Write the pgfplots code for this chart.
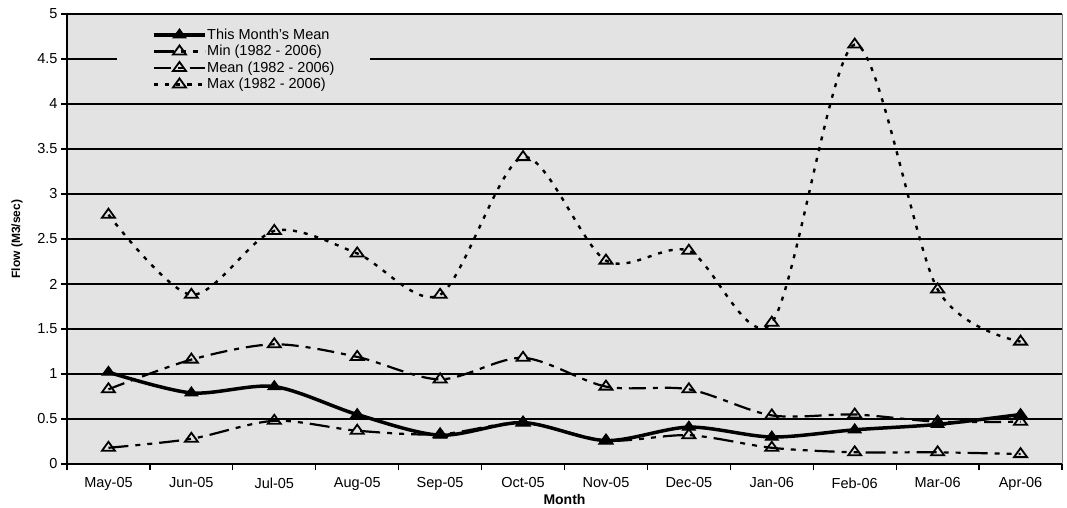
\documentclass[border=0pt]{standalone}
\usepackage{pgfplots}
\pgfplotsset{compat=1.18}
\usepackage{fontspec}
\setmainfont{Liberation Sans}
\definecolor{bgc}{RGB}{227,227,227}
\begin{document}
\begin{tikzpicture}
\useasboundingbox (-67bp,-44bp) rectangle (1000bp,464bp);
\begin{axis}[
  at={(0,0)}, anchor=south west,
  scale only axis, width=995bp, height=450bp,
  xmin=-0.5, xmax=11.5, ymin=0, ymax=5,
  axis lines=left,
  axis line style={-, line width=1.6bp, black},
  axis background/.style={fill=bgc},
  /pgf/number format/assume math mode=true,
  ytick={0,0.5,1,1.5,2,2.5,3,3.5,4,4.5,5},
  yticklabels={0,0.5,1,1.5,2,2.5,3,3.5,4,4.5,5},
  ymajorgrids,
  major grid style={black, line width=2bp},
  xtick={-0.5,0.5,1.5,2.5,3.5,4.5,5.5,6.5,7.5,8.5,9.5,10.5,11.5},
  x tick label as interval,
  xticklabels={May-05,Jun-05,Jul-05,Aug-05,Sep-05,Oct-05,Nov-05,Dec-05,Jan-06,Feb-06,Mar-06,Apr-06},
  tick align=outside,
  major tick length=6bp,
  tick style={black, line width=1.2bp},
  ticklabel style={font=\fontsize{14.5bp}{17bp}\selectfont},
  xticklabel style={yshift=-4bp},
  xlabel={Month},
  xlabel style={font=\bfseries\fontsize{14bp}{16bp}\selectfont, at={(axis description cs:0.5,0)}, anchor=center, yshift=-35.5bp},
  ylabel={Flow (M3/sec)},
  ylabel style={font=\bfseries\fontsize{12bp}{14bp}\selectfont, at={(axis description cs:-0.0503,0.5)}, anchor=center},
  legend style={at={(rel axis cs:0.0503,0.975)}, anchor=north west,
    fill=bgc, draw=none, inner xsep=35bp, inner ysep=3bp,
    font=\fontsize{14.5bp}{17bp}\selectfont,
    nodes={inner sep=0.5bp}, row sep=3.5bp},
  legend cell align=left,
  legend image code/.code={\draw[mark repeat=2,mark phase=2,#1] plot coordinates {(0bp,0bp) (25.5bp,0bp) (51bp,0bp)};},
  clip=false,
]
\addplot[black, line width=3.5bp, smooth, mark=triangle*, mark size=6bp,
  mark options={solid, fill=black, line width=1bp, xscale=1.25}]
  coordinates {(0,1.02) (1,0.79) (2,0.86) (3,0.55) (4,0.32) (5,0.46) (6,0.26) (7,0.41) (8,0.30) (9,0.38) (10,0.44) (11,0.55)};
\addlegendentry{This Month's Mean}
\addplot[black, line width=2.2bp, smooth, dash pattern=on 20bp off 7bp on 5bp off 7bp on 5bp off 7bp,
  mark=triangle, mark size=6bp, mark options={solid, fill=white, line width=1.8bp, xscale=1.25}]
  coordinates {(0,0.18) (1,0.28) (2,0.48) (3,0.37) (4,0.33) (5,0.46) (6,0.26) (7,0.32) (8,0.18) (9,0.13) (10,0.13) (11,0.11)};
\addlegendentry{Min (1982 - 2006)}
\addplot[black, line width=2.2bp, smooth, dash pattern=on 17bp off 7bp on 5bp off 7bp,
  mark=triangle, mark size=6bp, mark options={solid, fill=white, line width=1.8bp, xscale=1.25}]
  coordinates {(0,0.83) (1,1.16) (2,1.33) (3,1.19) (4,0.94) (5,1.18) (6,0.86) (7,0.83) (8,0.54) (9,0.55) (10,0.47) (11,0.47)};
\addlegendentry{Mean (1982 - 2006)}
\addplot[black, line width=2.4bp, smooth, dash pattern=on 4bp off 7bp,
  mark=triangle, mark size=6bp, mark options={solid, fill=white, line width=1.8bp, xscale=1.25}]
  coordinates {(0,2.77) (1,1.88) (2,2.59) (3,2.34) (4,1.88) (5,3.41) (6,2.26) (7,2.37) (8,1.57) (9,4.66) (10,1.94) (11,1.36)};
\addlegendentry{Max (1982 - 2006)}
\draw[gray, line width=1bp] (rel axis cs:1,0) -- (rel axis cs:1,1);
\end{axis}
\end{tikzpicture}
\end{document}
